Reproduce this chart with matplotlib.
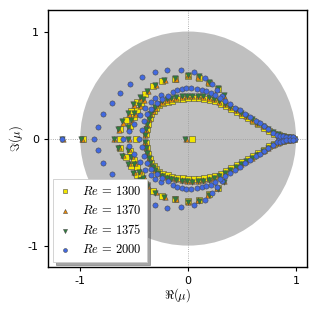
import numpy as np
import matplotlib
matplotlib.use("Agg")
import matplotlib.pyplot as plt
from matplotlib.patches import Circle

plt.rcParams['mathtext.fontset'] = 'cm'

labels = [r'$Re\,=\,1300$', r'$Re\,=\,1370$', r'$Re\,=\,1375$', r'$Re\,=\,2000$']
colors = ['#f2e600', '#f08c00', '#2e7d3c', '#4169e1']
markers = ['s', '^', 'v', 'o']

# ---- Re = 1300 (upper half-plane eigenvalues; lower half is the conjugate) ----
re1300_real = [-0.97, -0.635, -0.485, 0.034, 0.86, 0.90, 0.94, 0.98]
re1300_x = [-0.39, -0.38, -0.37, -0.355, -0.34, -0.32, -0.30, -0.27, -0.23, -0.19, -0.15, -0.10,
            -0.05, 0.0, 0.05, 0.10, 0.15, 0.20, 0.25, 0.30, 0.35, 0.40, 0.45, 0.50, 0.55, 0.60,
            0.65, 0.70, 0.75, 0.80, 0.84, 0.88, 0.92, 0.96,
            -0.63, -0.58, -0.53, -0.47, -0.40, -0.33, -0.24, -0.12, 0.0, 0.10, 0.19, 0.28,
            -0.54, -0.505, -0.47, -0.44]
re1300_y = [0.04, 0.09, 0.14, 0.19, 0.23, 0.26, 0.285, 0.31, 0.33, 0.345, 0.355, 0.365,
            0.372, 0.378, 0.38, 0.378, 0.372, 0.362, 0.347, 0.327, 0.303, 0.277, 0.25, 0.222, 0.193, 0.163,
            0.133, 0.103, 0.073, 0.047, 0.03, 0.02, 0.015, 0.008,
            0.09, 0.17, 0.26, 0.34, 0.42, 0.49, 0.535, 0.56, 0.585, 0.57, 0.52, 0.46,
            0.12, 0.20, 0.27, 0.33]

# ---- Re = 1370 ----
re1370_real = [-1.16, -0.985, -0.685, -0.55, -0.02, 0.85, 0.89, 0.93, 0.97]
re1370_x = [-0.40, -0.39, -0.38, -0.365, -0.35, -0.33, -0.31, -0.28, -0.24, -0.20, -0.16, -0.11,
            -0.06, -0.01, 0.04, 0.09, 0.14, 0.19, 0.24, 0.29, 0.34, 0.39, 0.44, 0.49, 0.54, 0.59,
            0.64, 0.69, 0.74, 0.79, 0.83, 0.87, 0.91, 0.95,
            -0.64, -0.60, -0.55, -0.50, -0.44, -0.37, -0.30, -0.21, -0.11, 0.0, 0.09, 0.18, 0.27, 0.33,
            -0.55, -0.52, -0.49, -0.45, -0.41]
re1370_y = [0.03, 0.08, 0.13, 0.18, 0.225, 0.26, 0.29, 0.32, 0.345, 0.36, 0.372, 0.382,
            0.39, 0.395, 0.397, 0.395, 0.39, 0.38, 0.365, 0.345, 0.32, 0.292, 0.265, 0.237, 0.207, 0.177,
            0.147, 0.117, 0.085, 0.057, 0.037, 0.025, 0.017, 0.01,
            0.08, 0.15, 0.23, 0.31, 0.38, 0.44, 0.50, 0.545, 0.56, 0.59, 0.575, 0.525, 0.465, 0.40,
            0.10, 0.16, 0.23, 0.30, 0.36]

# ---- Re = 1375 ----
re1375_real = [-1.17, -0.99, -0.69, -0.56, -0.03, 0.84, 0.88, 0.92, 0.96]
re1375_x = [-0.40, -0.39, -0.38, -0.365, -0.35, -0.33, -0.31, -0.28, -0.24, -0.20, -0.16, -0.11,
            -0.06, -0.01, 0.04, 0.09, 0.14, 0.19, 0.24, 0.29, 0.34, 0.39, 0.44, 0.49, 0.54, 0.59,
            0.64, 0.69, 0.74, 0.79, 0.83, 0.87, 0.91, 0.95,
            -0.65, -0.61, -0.56, -0.51, -0.45, -0.38, -0.31, -0.22, -0.12, 0.0, 0.10, 0.19, 0.28, 0.33,
            -0.56, -0.53, -0.50, -0.46, -0.42]
re1375_y = [0.035, 0.085, 0.135, 0.185, 0.23, 0.265, 0.295, 0.325, 0.35, 0.365, 0.377, 0.387,
            0.395, 0.40, 0.402, 0.40, 0.395, 0.385, 0.37, 0.35, 0.325, 0.297, 0.27, 0.24, 0.21, 0.18,
            0.15, 0.12, 0.088, 0.06, 0.04, 0.027, 0.018, 0.01,
            0.09, 0.16, 0.24, 0.32, 0.39, 0.445, 0.505, 0.55, 0.565, 0.595, 0.58, 0.53, 0.47, 0.41,
            0.11, 0.17, 0.24, 0.31, 0.37]

# ---- Re = 2000 ----
re2000_real = [-1.17, -0.87, -0.60, -0.46, 0.84, 0.87, 0.90, 0.93, 0.96, 0.99]
re2000_x = [-0.84, -0.79, -0.71, -0.63, -0.54, -0.43, -0.31, -0.20, -0.07, 0.05, 0.16, 0.22, 0.27, 0.31,
            -0.55, -0.50, -0.45, -0.40, -0.345, -0.305, -0.25,
            -0.43, -0.41, -0.38, -0.34, -0.29, -0.24, -0.19, -0.14, -0.10, -0.06, -0.02, 0.03,
            0.08, 0.127, 0.167, 0.21, 0.25, 0.296, 0.34, 0.39, 0.435, 0.48, 0.53, 0.574, 0.627,
            0.667, 0.70, 0.744, 0.79, 0.82, 0.85, 0.88, 0.91, 0.94, 0.97]
re2000_y = [0.11, 0.23, 0.33, 0.43, 0.51, 0.575, 0.62, 0.645, 0.64, 0.62, 0.57, 0.51, 0.45, 0.40,
            0.07, 0.14, 0.22, 0.29, 0.34, 0.375, 0.41,
            0.08, 0.16, 0.23, 0.28, 0.33, 0.37, 0.40, 0.435, 0.455, 0.464, 0.47, 0.47,
            0.464, 0.455, 0.446, 0.43, 0.41, 0.38, 0.35, 0.32, 0.29, 0.265, 0.23, 0.20, 0.164,
            0.143, 0.12, 0.087, 0.056, 0.035, 0.028, 0.022, 0.018, 0.014, 0.01]

series = [(re1300_real, re1300_x, re1300_y),
          (re1370_real, re1370_x, re1370_y),
          (re1375_real, re1375_x, re1375_y),
          (re2000_real, re2000_x, re2000_y)]

fig = plt.figure(figsize=(3.17, 3.16), dpi=100)
ax = fig.add_axes([0.151, 0.155, 0.817, 0.813])

ax.add_patch(Circle((0, 0), 1.0, facecolor='#c0c0c0', edgecolor='none', zorder=0))
ax.axhline(0, color='#999999', lw=0.6, ls=':', zorder=1)
ax.axvline(0, color='#999999', lw=0.6, ls=':', zorder=1)

sizes = [14, 15, 15, 14]
for (real, ux, uy), lab, c, m, s in zip(series, labels, colors, markers, sizes):
    ux = np.asarray(ux); uy = np.asarray(uy)
    xs = np.concatenate([real, ux, ux])
    ys = np.concatenate([np.zeros(len(real)), uy, -uy])
    ax.scatter(xs, ys, s=s, marker=m, facecolor=c, edgecolor='#4a4a4a',
               linewidths=0.4, label=lab, zorder=3)

ax.set_xlim(-1.3, 1.1)
ax.set_ylim(-1.2, 1.2)
ax.set_xticks([-1, 0, 1])
ax.set_xticklabels(['-1', '0', '1'])
ax.set_yticks([-1, 0, 1])
ax.set_yticklabels(['-1', '0', '1'])
ax.tick_params(labelsize=8, length=3, width=0.8)
for sp in ax.spines.values():
    sp.set_linewidth(1.0)
ax.set_xlabel(r'$\Re(\mu)$', fontsize=9, labelpad=0)
ax.set_ylabel(r'$\Im(\mu)$', fontsize=9, labelpad=2)

leg = ax.legend(loc='lower left', fontsize=9, frameon=True, fancybox=False, shadow=True,
                markerscale=0.75, handlelength=1.0, handletextpad=0.9, borderpad=0.45,
                labelspacing=0.5, borderaxespad=0.4)
leg.get_frame().set_edgecolor('#cccccc')
leg.get_frame().set_linewidth(0.6)

fig.savefig('out.png', dpi=100)
